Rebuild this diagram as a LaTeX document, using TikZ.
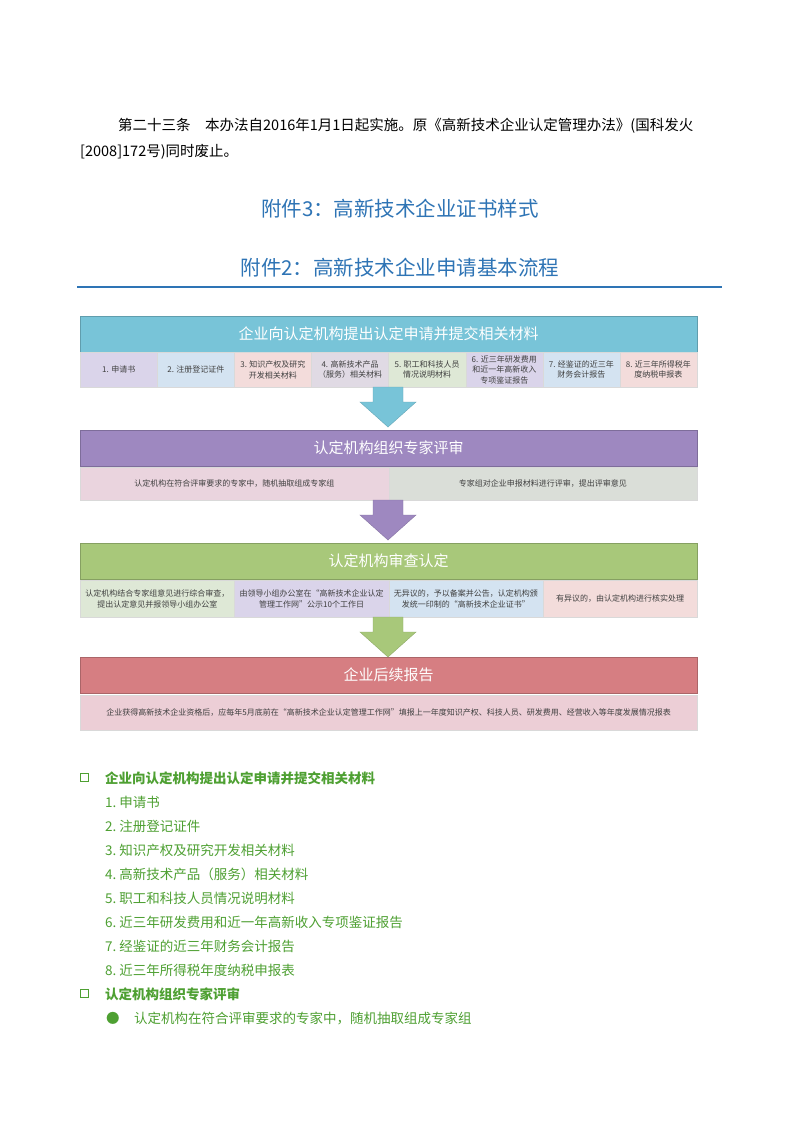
\documentclass[tikz,border=0pt]{standalone}
\usepackage{fontspec}
\setmainfont{Noto Sans CJK SC}
\usetikzlibrary{positioning}
\definecolor{headblue}{RGB}{46,116,181}
\definecolor{listgreen}{RGB}{78,160,50}
\definecolor{tealH}{RGB}{120,196,216}
\definecolor{purpH}{RGB}{158,136,192}
\definecolor{greenH}{RGB}{168,200,122}
\definecolor{redH}{RGB}{214,126,130}
\definecolor{cLav}{RGB}{218,212,234}
\definecolor{cBlue}{RGB}{212,227,241}
\definecolor{cPink}{RGB}{243,220,219}
\definecolor{cGrey}{RGB}{224,218,228}
\definecolor{cGreen}{RGB}{222,232,214}
\definecolor{cRose}{RGB}{234,212,222}
\definecolor{cSage}{RGB}{218,222,216}
\definecolor{cRed}{RGB}{236,206,214}
\tikzset{
 band/.style={fill=#1,draw=#1!80!black,anchor=north west,minimum width=617pt,
  minimum height=36pt,inner sep=0pt,text=white,font=\fontsize{15}{15}\selectfont},
 cell/.style={fill=#1,draw=white!70!gray,anchor=north west,minimum height=35pt,
  inner sep=1pt,align=center,text=black!75,font=\fontsize{8}{10.5}\selectfont},
 down/.style={fill=#1,draw=#1!85!black},
 item/.style={anchor=west,inner sep=0pt,text=listgreen,font=\fontsize{13.5}{14}\selectfont},
 box/.style={draw=listgreen,line width=0.8pt,minimum size=8pt,inner sep=0pt,
  path picture={\draw[listgreen,line width=1.4pt] (path picture bounding box.south west)++(1.5pt,0) -- ++(0,-1.5pt) -| ++(8pt,8pt);}},
 para/.style={anchor=west,inner sep=0pt,font=\fontsize{14.5}{15}\selectfont}
}
\begin{document}
\begin{tikzpicture}[x=1pt,y=-1pt]
 \useasboundingbox[fill=white] (0,0) rectangle (800,1132);
 % page text
 \node[para] (art) at (118,126) {第二十三条\quad 本办法自2016年1月1日起实施。原《高新技术企业认定管理办法》(国科发火};
 \node[para] (art2) at (80,152) {[2008]172号)同时废止。};
 \node[text=headblue,font=\fontsize{20.5}{21}\selectfont] (att3) at (400,209) {附件3：高新技术企业证书样式};
 \node[text=headblue,font=\fontsize{20.5}{21}\selectfont] (att2) at (400,268) {附件2：高新技术企业申请基本流程};
 \draw[headblue,line width=1.5pt] (77,287) -- (722,287);
 % step 1
 \node[band=tealH] (s1) at (80,316) {企业向认定机构提出认定申请并提交相关材料};
 \foreach \i/\t/\c in {0/1. 申请书/cLav,1/2. 注册登记证件/cBlue,2/{3. 知识产权及研究\\开发相关材料}/cPink,
  3/{4. 高新技术产品\\（服务）相关材料}/cGrey,4/{5. 职工和科技人员\\情况说明材料}/cGreen,
  5/{6. 近三年研发费用\\和近一年高新收入\\专项鉴证报告}/cLav,6/{7. 经鉴证的近三年\\财务会计报告}/cBlue,
  7/{8. 近三年所得税年\\度纳税申报表}/cPink}
  \node[cell=\c,minimum width=77.1pt] (c1\i) at (80+77.1*\i,352) {\t};
 % step 2
 \node[band=purpH] (s2) at (80,430) {认定机构组织专家评审};
 \node[cell=cRose,minimum width=308.5pt,minimum height=33pt] (c20) at (80,467) {认定机构在符合评审要求的专家中，随机抽取组成专家组};
 \node[cell=cSage,minimum width=308.5pt,minimum height=33pt] (c21) at (388.5,467) {专家组对企业申报材料进行评审，提出评审意见};
 % step 3
 \node[band=greenH] (s3) at (80,543) {认定机构审查认定};
 \foreach \i/\t/\c in {0/{认定机构结合专家组意见进行综合审查，\\提出认定意见并报领导小组办公室}/cGreen,
  1/{由领导小组办公室在“高新技术企业认定\\管理工作网”公示10个工作日}/cLav,
  2/{无异议的，予以备案并公告，认定机构颁\\发统一印制的“高新技术企业证书”}/cBlue,
  3/有异议的，由认定机构进行核实处理/cPink}
  \node[cell=\c,minimum width=154.25pt,minimum height=37pt] (c3\i) at (80+154.25*\i,580) {\t};
 % step 4
 \node[band=redH] (s4) at (80,657) {企业后续报告};
 \node[cell=cRed,minimum width=617pt] (c40) at (80,695) {企业获得高新技术企业资格后，应每年5月底前在“高新技术企业认定管理工作网”填报上一年度知识产权、科技人员、研发费用、经营收入等年度发展情况报表};
 % arrows
 \coordinate (m1) at (388,387);
 \coordinate (m2) at (388,500);
 \coordinate (m3) at (388,617);
 \foreach \m/\c in {m1/tealH,m2/purpH,m3/greenH}
  \draw[down=\c] (\m) ++(-15,0) -- ++(0,15) -- ++(-13,0) -- ++(28,25) -- ++(28,-25) -- ++(-13,0) -- ++(0,-15) -- cycle;
 % list
 \node[item,font=\fontsize{13.5}{14}\selectfont\bfseries] (h1) at (105,778) {企业向认定机构提出认定申请并提交相关材料};
 \node[box] (b1) at (84,777) {};
 \foreach \n/\t [count=\k from 0] in {1/申请书,2/注册登记证件,3/知识产权及研究开发相关材料,4/高新技术产品（服务）相关材料,
  5/职工和科技人员情况说明材料,6/近三年研发费用和近一年高新收入专项鉴证报告,7/经鉴证的近三年财务会计报告,8/近三年所得税年度纳税申报表}
  \node[item] (l\n) at (105,802+24*\k) {\n.\ \t};
 \node[item,font=\fontsize{13.5}{14}\selectfont\bfseries] (h2) at (105,994) {认定机构组织专家评审};
 \node[box] (b2) at (84,993) {};
 \node[item] (d1) at (106,1018) {●};
 \node[item] (l9) at (134,1018) {认定机构在符合评审要求的专家中，随机抽取组成专家组};
\end{tikzpicture}
\end{document}
